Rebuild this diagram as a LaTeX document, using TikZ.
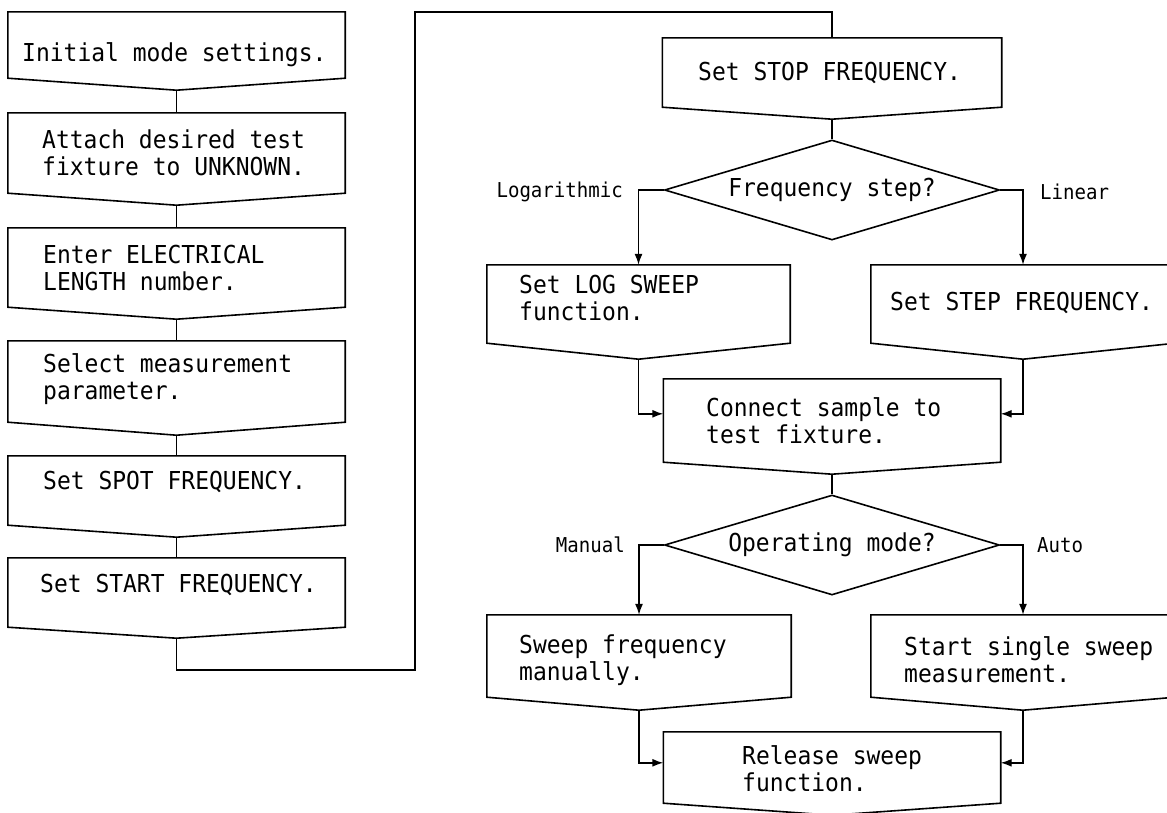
\documentclass[tikz,border=0pt]{standalone}
\usepackage{fontspec}
\usetikzlibrary{shapes.geometric,arrows.meta,calc}
\newfontfamily\monof[FakeStretch=0.93]{DejaVu Sans Mono}
\newcommand\pboxoutline[2]{\draw[boxline] (#1.south west) -- (#1.north west) -- (#1.north east) -- (#1.south east) -- ($(#1.south)+(0,#2)$) coordinate (#1tip) -- cycle;}
\tikzset{
  pbox/.style={rectangle, draw=none, inner sep=0pt},
  boxline/.style={line width=1.6pt, line join=miter},
  txt/.style={anchor=west, align=left, inner sep=0pt, font=\monof\fontsize{24.7}{27}\selectfont},
  lbl/.style={inner sep=0pt, font=\monof\fontsize{20.5}{22}\selectfont},
  dec/.style={diamond, draw, line width=1.6pt, aspect=3.35, inner sep=0pt, minimum width=335pt, minimum height=100pt, font=\monof\fontsize{24.7}{27}\selectfont},
  conn/.style={line width=1.6pt},
  arr/.style={line width=1.4pt, -{Latex[length=11pt,width=8pt]}}
}
\begin{document}
\begin{tikzpicture}[x=1pt,y=-1pt]
\useasboundingbox (0,0) rectangle (1167,812);
% left column
\node[pbox, minimum width=337pt, minimum height=66pt] (b1) at (176.5,45) {};
\pboxoutline{b1}{12}
\node[txt] (b1t) at (22,55) {Initial mode settings.};
\node[pbox, minimum width=337pt, minimum height=80pt] (b2) at (176.5,153) {};
\pboxoutline{b2}{12}
\node[txt] (b2t) at (42,153) {Attach desired test\\fixture to UNKNOWN.};
\node[pbox, minimum width=337pt, minimum height=79pt] (b3) at (176.5,267.5) {};
\pboxoutline{b3}{12}
\node[txt] (b3t) at (43,268) {Enter ELECTRICAL\\LENGTH number.};
\node[pbox, minimum width=337pt, minimum height=81pt] (b4) at (176.5,381.5) {};
\pboxoutline{b4}{13}
\node[txt] (b4t) at (43,379) {Select measurement\\parameter.};
\node[pbox, minimum width=337pt, minimum height=69pt] (b5) at (176.5,490.5) {};
\pboxoutline{b5}{12}
\node[txt] (b5t) at (43,482) {Set SPOT FREQUENCY.};
\node[pbox, minimum width=337pt, minimum height=69pt] (b6) at (176.5,592.5) {};
\pboxoutline{b6}{11}
\node[txt] (b6t) at (40,585) {Set START FREQUENCY.};
\draw[conn] (b1tip) -- (b2.north);
\draw[conn] (b2tip) -- (b3.north);
\draw[conn] (b3tip) -- (b4.north);
\draw[conn] (b4tip) -- (b5.north);
\draw[conn] (b5tip) -- (b6.north);
% right column
\node[pbox, minimum width=339pt, minimum height=69pt] (stop) at (832,72.5) {};
\pboxoutline{stop}{12}
\node[txt] (stopt) at (698,73) {Set STOP FREQUENCY.};
\coordinate (k2) at (415,670);
\coordinate (k3) at (415,12);
\draw[conn] (b6tip) |- (k2) -- (k3) -| (stop.north);
\node[dec] (d1) at (832,190) {Frequency step?};
\draw[conn] (stoptip) -- (d1.north);
\node[lbl, anchor=east] (l1) at (623,192) {Logarithmic};
\node[lbl, anchor=west] (l2) at (1040,192) {Linear};
\node[pbox, minimum width=303pt, minimum height=78pt] (log) at (638.5,304) {};
\pboxoutline{log}{16}
\node[txt] (logt) at (519,298) {Set LOG SWEEP\\function.};
\node[pbox, minimum width=304pt, minimum height=78pt] (step) at (1023,304) {};
\pboxoutline{step}{16}
\node[txt] (stept) at (890,303) {Set STEP FREQUENCY.};
\draw[arr] (d1.west) -| (log.north);
\draw[arr] (d1.east) -| (step.north);
\node[pbox, minimum width=337pt, minimum height=83pt] (cn) at (832,420.5) {};
\pboxoutline{cn}{12}
\node[txt] (cnt) at (706,421) {Connect sample to\\test fixture.};
\coordinate (cnl) at ($(cn.north west)+(0,35)$);
\coordinate (cnr) at ($(cn.north east)+(0,35)$);
\draw[arr] (logtip) |- (cnl);
\draw[arr] (steptip) |- (cnr);
\node[dec] (d2) at (832,545) {Operating mode?};
\draw[conn] (cntip) -- (d2.north);
\node[lbl, anchor=east] (l3) at (625,545) {Manual};
\node[lbl, anchor=west] (l4) at (1037,545) {Auto};
\node[pbox, minimum width=304pt, minimum height=82pt] (sw) at (639,656) {};
\pboxoutline{sw}{13}
\node[txt] (swt) at (519,660) {Sweep frequency\\manually.};
\node[pbox, minimum width=304pt, minimum height=82pt] (st) at (1023,656) {};
\pboxoutline{st}{13}
\node[txt] (stt) at (904,660) {Start single sweep\\measurement.};
\draw[arr] (d2.west) -| (sw.north);
\draw[arr] (d2.east) -| (st.north);
\node[pbox, minimum width=337pt, minimum height=71pt] (rel) at (832,767.5) {};
\pboxoutline{rel}{12}
\node[txt] (relt) at (742,769) {Release sweep\\function.};
\coordinate (rl) at ($(rel.north west)+(0,31)$);
\coordinate (rr) at ($(rel.north east)+(0,31)$);
\draw[arr] (swtip) |- (rl);
\draw[arr] (sttip) |- (rr);
\end{tikzpicture}
\end{document}
